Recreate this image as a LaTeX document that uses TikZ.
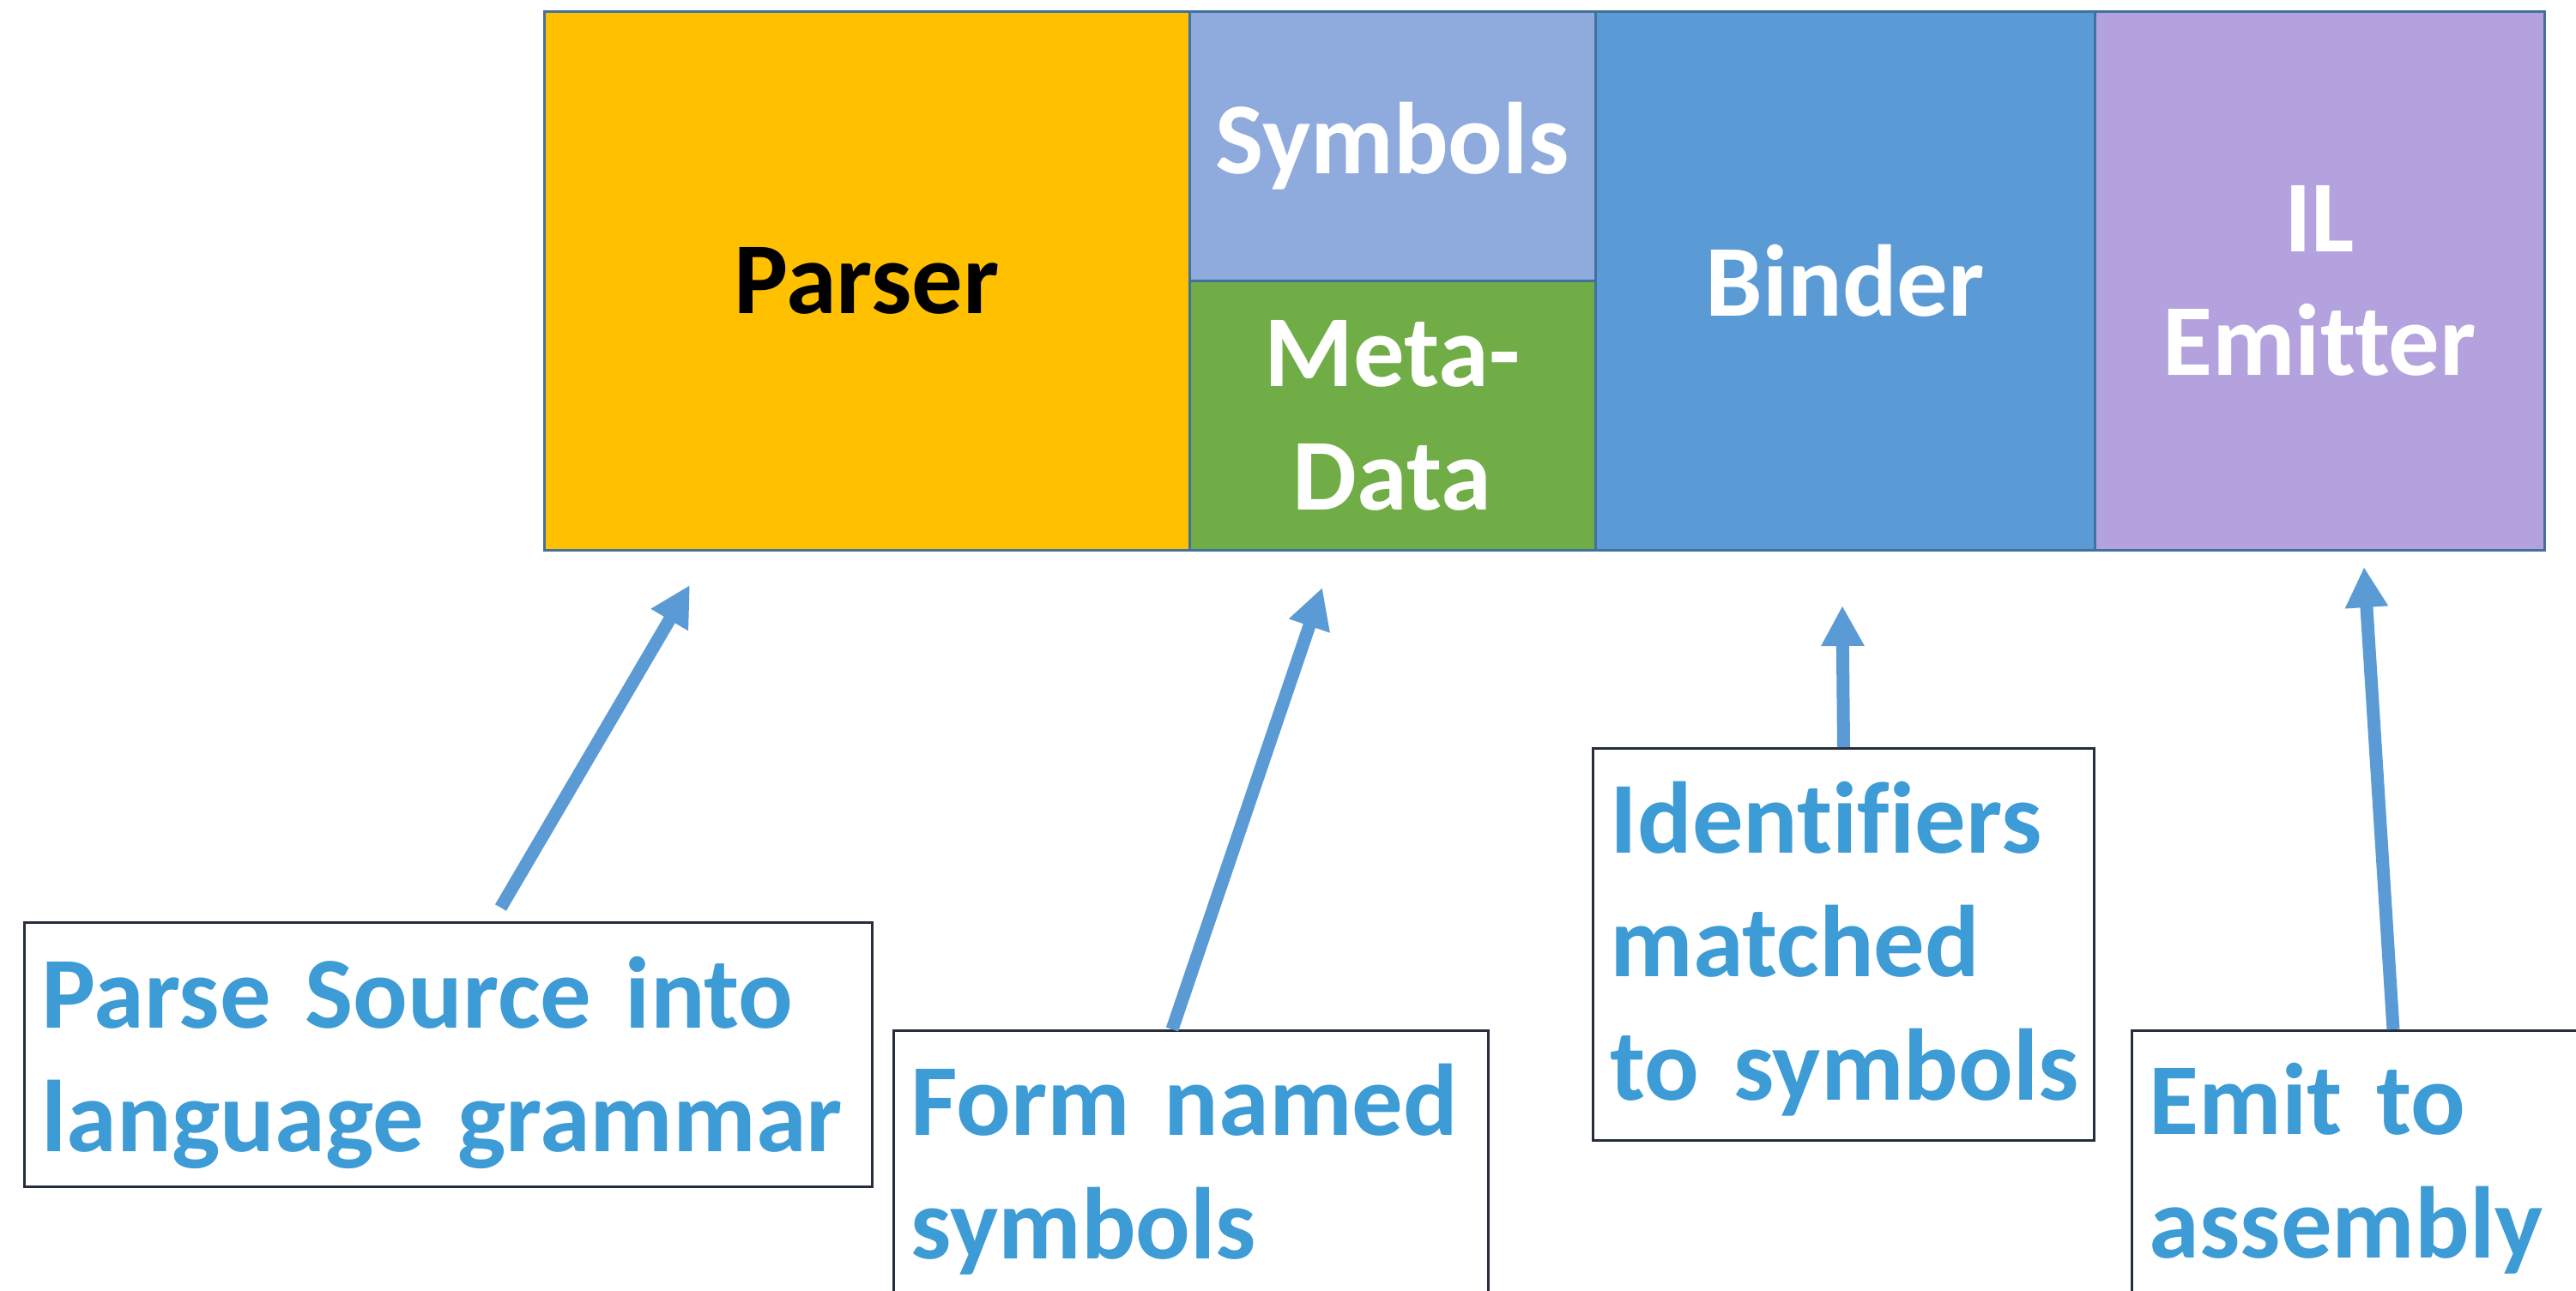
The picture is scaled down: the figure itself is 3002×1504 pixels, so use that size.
\documentclass[tikz,border=0pt]{standalone}
\usepackage{fontspec}
\setmainfont{Carlito}[Ligatures={NoCommon,NoContextual}, Contextuals={NoAlternate}, WordSpace=0.8]
\usetikzlibrary{arrows.meta,calc}
\definecolor{parserc}{HTML}{FFC000}
\definecolor{symc}{HTML}{8FAADC}
\definecolor{metac}{HTML}{70AD47}
\definecolor{binderc}{HTML}{5B9BD5}
\definecolor{ilc}{HTML}{B4A2DF}
\definecolor{edgec}{HTML}{41719C}
\definecolor{labelc}{HTML}{3D9BD6}
\definecolor{arrowc}{HTML}{5B9BD5}
\definecolor{noteedge}{HTML}{262E3D}
\begin{document}
\begin{tikzpicture}[x=0.25pt,y=-0.25pt,
  font=\fontsize{29.7pt}{36pt}\selectfont\bfseries,
  stage/.style={draw=edgec, line width=0.75pt, inner sep=0pt, align=center, text=white},
  note/.style={draw=noteedge, line width=0.75pt, inner xsep=5pt, inner ysep=0pt, align=left, text=labelc, anchor=north west},
  flow/.style={draw=arrowc, line width=3.75pt, -{Triangle[length=11.75pt,width=11.75pt]}}
]
\useasboundingbox (0,0) rectangle (3002,1504);
\clip (0,0) rectangle (3002,1504);
\fill[white] (0,0) rectangle (3002,1504);

% pipeline stages
\node[stage, fill=parserc, text=black, minimum width=188pt, minimum height=157pt] (parser) at (1010,327) {Parser};
\node[stage, fill=symc, minimum width=118.25pt, minimum height=78.5pt] (symbols) at (1622.5,170) {Symbols};
\node[stage, fill=metac, minimum width=118.25pt, minimum height=78.5pt] (meta) at (1622.5,484) {Meta-\\Data};
\node[stage, fill=binderc, minimum width=145.5pt, minimum height=157pt] (binder) at (2150,327) {Binder};
\node[stage, fill=ilc, minimum width=131pt, minimum height=157pt] (il) at (2703,327) {IL\\Emitter};

% notes
\node[note, text width=237pt, text height=30.75pt, text depth=46.25pt] (box1) at (27,1074) {\mbox{Parse Source into}\\\mbox{language grammar}};
\node[note, text width=163.25pt, text height=30.5pt, text depth=59.5pt] (box2) at (1040,1200) {\mbox{Form named}\\symbols};
\node[note, text width=136pt, text height=30.5pt, text depth=83.75pt] (box3) at (1855,871) {Identifiers\\matched\\\mbox{to symbols}};
\node[note, text width=165pt, text height=30.25pt, text depth=60pt] (box4) at (2483,1200) {\mbox{Emit to}\\assembly};

% arrows
\coordinate (tip1) at (804,682);
\coordinate (tip2) at (1541,685);
\coordinate (tip3) at (2147,706);
\coordinate (tip4) at (2755,661);
\draw[flow] ($(box1.north)+(61,-16)$) -- (tip1);
\draw[flow] ($(box2.north west)+(326,0)$) -- (tip2);
\draw[flow] (box3.north) -- (tip3);
\draw[flow] ($(box4.north west)+(306,0)$) -- (tip4);
\end{tikzpicture}
\end{document}
